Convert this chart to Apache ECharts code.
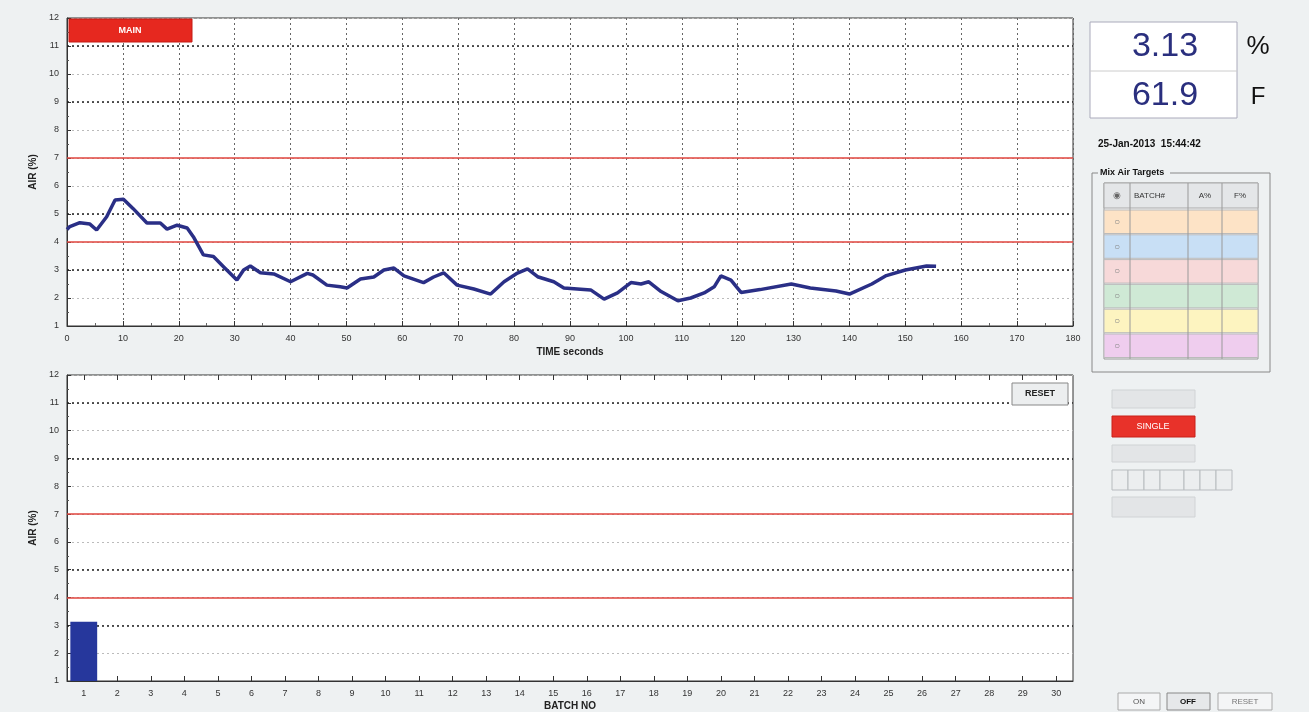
<!DOCTYPE html>
<html>
<head>
<meta charset="utf-8">
<script src="https://cdn.jsdelivr.net/npm/echarts@6/dist/echarts.min.js"></script>
<style>
html,body{margin:0;padding:0;background:#eef1f2;}
#c{width:1309px;height:712px;}
</style>
</head>
<body>
<div id="c"></div>
<script>
// ---- data ----
var timeSec = [0,0.5,2.3,4.1,5.3,7.1,8.6,10.1,11.8,14.3,16.7,17.9,19.7,21.5,22.6,24.4,26.2,28,30.4,31.6,32.8,34.6,37,40,43,44,46.5,48.9,50.1,52.5,54.9,56.7,58.5,60.3,63.8,65.6,67.4,69.8,72.8,75.8,78.2,80.6,82.4,84.2,87.1,88.9,93.7,96.1,98.5,100.9,102.7,104.1,106.3,109.3,111.6,114,115.8,117,118.8,120.6,124,129.6,133,137.6,140,144,146.6,150,153.8,155.5];
var airPct = [4.45,4.55,4.69,4.64,4.43,4.9,5.5,5.53,5.2,4.68,4.68,4.46,4.6,4.5,4.19,3.54,3.48,3.12,2.64,3.0,3.14,2.9,2.86,2.58,2.88,2.82,2.46,2.4,2.36,2.68,2.75,3.0,3.07,2.79,2.55,2.75,2.9,2.46,2.32,2.14,2.58,2.89,3.04,2.76,2.58,2.36,2.29,1.96,2.18,2.55,2.5,2.58,2.23,1.9,2.0,2.18,2.4,2.79,2.64,2.2,2.3,2.5,2.36,2.25,2.14,2.5,2.8,3.0,3.14,3.13];
var batchNos = ['1','2','3','4','5','6','7','8','9','10','11','12','13','14','15','16','17','18','19','20','21','22','23','24','25','26','27','28','29','30'];
var batchAir = [3.13];
var limitLevels = [4, 7];
var darkGridLevels = [3, 5, 9, 11];
var currentAir = '3.13';
var currentTemp = '61.9';
var stamp = '25-Jan-2013  15:44:42';
var tableHeader = ['BATCH#', 'A%', 'F%'];
var rowColors = ['#fde3c6','#c8dff5','#f7d9d9','#cfe9d5','#fdf4c0','#efcdee'];

var chart = echarts.init(document.getElementById('c'), null, {renderer:'canvas'});
var FONT = 'Liberation Sans';

var lineData = timeSec.map(function(t,i){ return [t, airPct[i]]; });
var barData = batchNos.map(function(b,i){ return i < batchAir.length ? batchAir[i] : null; });

function limitLines(){
  return {
    silent:true, symbol:'none', label:{show:false},
    lineStyle:{color:'#e0443e', width:1.5, type:'solid'},
    data: limitLevels.map(function(v){ return {yAxis:v}; })
  };
}
function darkLines(){
  return {
    silent:true, symbol:'none', label:{show:false},
    lineStyle:{color:'#222', width:1.5, type:[2,3]},
    data: darkGridLevels.map(function(v){ return {yAxis:v}; })
  };
}

var yAxisCommon = {
  type:'value', min:1, max:12, interval:1,
  name:'AIR (%)', nameLocation:'middle', nameGap:22, nameRotate:90,
  nameTextStyle:{fontSize:10, color:'#222', fontFamily:FONT, fontWeight:'bold'},
  axisLine:{show:true, lineStyle:{color:'#333'}},
  axisTick:{show:true, inside:true, length:4, lineStyle:{color:'#333'}},
  minorTick:{show:true, splitNumber:2, length:2, lineStyle:{color:'#555'}},
  axisLabel:{fontSize:9, color:'#333', margin:8, fontFamily:FONT},
  splitLine:{show:true, lineStyle:{color:'#bbb', type:[2,3], width:1}}
};

var graphics = [];
function rect(x,y,w,h,fill,stroke,lw){
  graphics.push({type:'rect', shape:{x:x,y:y,width:w,height:h}, style:{fill:fill||'none', stroke:stroke||null, lineWidth:lw||1}, silent:true, z:10});
}
function text(x,y,s,size,color,align,weight,vAlign){
  graphics.push({type:'text', x:x, y:y, style:{text:s, fontSize:size, fill:color, fontFamily:FONT, textAlign:align||'left', textVerticalAlign:vAlign||'middle', fontWeight:weight||'normal'}, silent:true, z:11});
}

// MAIN button
rect(69,19,123,23,'#e6281f','#c41a14',1);
text(130,30.5,'MAIN',9,'#fff','center','bold');
// RESET button in lower chart
rect(1012,383,56,22,'#eceeef','#888',1);
text(1040,394,'RESET',9,'#222','center','bold');

// readout box
rect(1090,22,147,96,'#ffffff','#aab',1);
graphics.push({type:'line', shape:{x1:1090,y1:71,x2:1237,y2:71}, style:{stroke:'#ccc', lineWidth:1}, silent:true, z:11});
text(1165,47,currentAir,34,'#2a2f7e','center');
text(1165,96,currentTemp,34,'#2a2f7e','center');
text(1258,47,'%',26,'#111','center');
text(1258,97,'F',24,'#111','center');
text(1098,144,stamp,10,'#111','left','bold');

// group box
rect(1092,173,178,199,'none','#888',1);
rect(1098,166,72,13,'#eef1f2',null);
text(1100,173,'Mix Air Targets',9,'#111','left','bold');
// table
rect(1104,183,154,176,'#f4f5f6','#999',1);
rect(1104,183,154,25,'#e4e6e8','#aaa',1);
var colX = [1104,1130,1188,1222,1258];
text(1117,195.5,'\u25C9',9,'#666','center');
text(1134,195.5,tableHeader[0],8,'#333','left');
text(1205,195.5,tableHeader[1],8,'#333','center');
text(1240,195.5,tableHeader[2],8,'#333','center');
rowColors.forEach(function(c,i){
  var y = 210 + i*24.8;
  rect(1104,y,154,23.5,c,'#bbb',1);
  text(1117,y+12,'\u25CB',10,'#888','center');
});
colX.slice(1,4).forEach(function(x){
  graphics.push({type:'line', shape:{x1:x,y1:183,x2:x,y2:359}, style:{stroke:'#999', lineWidth:1}, silent:true, z:12});
});

// control buttons
rect(1112,390,83,18,'#e3e5e7','#d0d3d5',1);
rect(1112,416,83,21,'#e8322a','#c82018',1);
text(1153,426.5,'SINGLE',9,'#fff','center');
rect(1112,445,83,17,'#e3e5e7','#d0d3d5',1);
[1112,1128,1144,1160,1184,1200,1216].forEach(function(x,i,a){
  var w = (i < a.length-1 ? a[i+1] : 1232) - x;
  rect(x,470,w,20,'#eceeef','#b8bcbf',1);
});
rect(1112,497,83,20,'#e3e5e7','#d0d3d5',1);
// bottom buttons
rect(1118,693,42,17,'#f4f5f6','#aaa',1);
text(1139,701.5,'ON',8,'#555','center');
rect(1167,693,43,17,'#e6e8ea','#888',1);
text(1188,701.5,'OFF',8,'#111','center','bold');
rect(1218,693,54,17,'#f4f5f6','#aaa',1);
text(1245,701.5,'RESET',8,'#777','center');

var option = {
  backgroundColor:'#eef1f2',
  animation:false,
  grid:[
    {left:67, top:18, width:1006, height:308, show:true, backgroundColor:'#ffffff', borderColor:'#333', borderWidth:1},
    {left:67, top:375, width:1006, height:309, show:true, backgroundColor:'#ffffff', borderColor:'#333', borderWidth:1}
  ],
  xAxis:[
    {type:'value', gridIndex:0, min:0, max:180, interval:10,
     name:'TIME seconds', nameLocation:'middle', nameGap:21,
     nameTextStyle:{fontSize:10, color:'#222', fontFamily:FONT, fontWeight:'bold'},
     axisLine:{show:true, onZero:false, lineStyle:{color:'#333'}},
     axisTick:{show:true, inside:true, length:5, lineStyle:{color:'#333'}},
     minorTick:{show:true, splitNumber:2, length:3, lineStyle:{color:'#666'}},
     axisLabel:{fontSize:9, color:'#333', margin:8, fontFamily:FONT},
     splitLine:{show:true, lineStyle:{color:'#666', type:[2,3], width:1}}},
    {type:'category', gridIndex:1, data:batchNos, boundaryGap:true,
     name:'BATCH NO', nameLocation:'middle', nameGap:20,
     nameTextStyle:{fontSize:10, color:'#222', fontFamily:FONT, fontWeight:'bold'},
     axisLine:{show:true, onZero:false, lineStyle:{color:'#333'}},
     axisTick:{show:true, inside:true, length:5, alignWithLabel:true, lineStyle:{color:'#333'}},
     axisLabel:{fontSize:9, color:'#333', margin:8, interval:0, fontFamily:FONT},
     splitLine:{show:false}},
    {type:'category', gridIndex:1, data:batchNos, position:'top', boundaryGap:true,
     axisLine:{show:false}, axisLabel:{show:false},
     axisTick:{show:true, inside:true, length:5, alignWithLabel:true, lineStyle:{color:'#333'}}}
  ],
  yAxis:[
    Object.assign({gridIndex:0}, yAxisCommon),
    Object.assign({gridIndex:1}, yAxisCommon)
  ],
  series:[
    {type:'line', xAxisIndex:0, yAxisIndex:0, data:lineData, symbol:'none',
     lineStyle:{color:'#2a2f86', width:3.5}, z:5,
     markLine:limitLines()},
    {type:'line', xAxisIndex:0, yAxisIndex:0, data:[], markLine:darkLines()},
    {type:'bar', xAxisIndex:1, yAxisIndex:1, data:barData, barWidth:'80%',
     itemStyle:{color:'#26379c'}, z:5,
     markLine:limitLines()},
    {type:'line', xAxisIndex:1, yAxisIndex:1, data:[], markLine:darkLines()}
  ],
  graphic:graphics
};
chart.setOption(option);
</script>
</body>
</html>
